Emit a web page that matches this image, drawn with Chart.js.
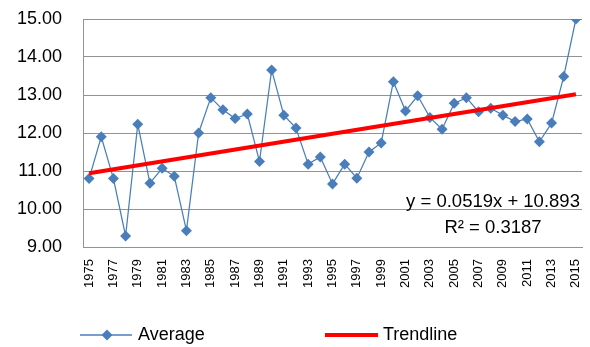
<!DOCTYPE html>
<html>
<head>
<meta charset="utf-8">
<script src="https://cdn.jsdelivr.net/npm/chart.js@4"></script>
<style>
  html, body { margin: 0; padding: 0; background: #fff; }
  #wrap { width: 590px; height: 347px; position: relative; }
</style>
</head>
<body>
<div id="wrap"><canvas id="chart"></canvas></div>
<script>
const years = ['1975', '1976', '1977', '1978', '1979', '1980', '1981', '1982', '1983', '1984',
  '1985', '1986', '1987', '1988', '1989', '1990', '1991', '1992', '1993', '1994',
  '1995', '1996', '1997', '1998', '1999', '2000', '2001', '2002', '2003', '2004',
  '2005', '2006', '2007', '2008', '2009', '2010', '2011', '2012', '2013', '2014', '2015'];
const average = [10.80, 11.90, 10.80, 9.29, 12.23, 10.68, 11.07, 10.86, 9.43, 12.00,
  12.93, 12.61, 12.38, 12.50, 11.25, 13.66, 12.47, 12.13, 11.18, 11.37,
  10.66, 11.18, 10.81, 11.50, 11.74, 13.35, 12.58, 12.98, 12.41, 12.10,
  12.78, 12.93, 12.56, 12.65, 12.47, 12.30, 12.37, 11.77, 12.26, 13.49, 15.00];
// trendline end points (first and last year)
const trendYears = ['1975', '2015'];
const trendValues = [10.94, 13.02];
const equationLines = ['y = 0.0519x + 10.893', 'R² = 0.3187'];
const legendNames = ['Average', 'Trendline'];

const blue = '#4a7ebb';
const red = '#ff0000';
const gridColor = '#939393';
const font = 'Liberation Sans';

// equation text drawn inside the plot area
const equationPlugin = {
  id: 'equation',
  afterDatasetsDraw(chart) {
    const ctx = chart.ctx;
    const area = chart.chartArea;
    const y = chart.scales.y;
    ctx.save();
    ctx.font = '18.5px "' + font + '"';
    ctx.fillStyle = '#000';
    ctx.textAlign = 'center';
    ctx.textBaseline = 'middle';
    const cx = area.right - 89;
    ctx.fillText(equationLines[0], cx, y.getPixelForValue(10.18));
    ctx.fillText(equationLines[1], cx, y.getPixelForValue(9.5));
    ctx.restore();
  }
};

// legend at the bottom, like the spreadsheet one
const legendPlugin = {
  id: 'bottomLegend',
  afterDraw(chart) {
    const ctx = chart.ctx;
    const ly = 335;
    ctx.save();
    // Average: thin blue line with a diamond
    ctx.strokeStyle = blue;
    ctx.lineWidth = 1.5;
    ctx.beginPath();
    ctx.moveTo(80, ly);
    ctx.lineTo(132, ly);
    ctx.stroke();
    ctx.fillStyle = blue;
    ctx.beginPath();
    ctx.moveTo(107, ly - 5.5);
    ctx.lineTo(112.5, ly);
    ctx.lineTo(107, ly + 5.5);
    ctx.lineTo(101.5, ly);
    ctx.closePath();
    ctx.fill();
    // Trendline: thick red line
    ctx.strokeStyle = red;
    ctx.lineWidth = 4;
    ctx.beginPath();
    ctx.moveTo(325, ly);
    ctx.lineTo(378, ly);
    ctx.stroke();
    ctx.font = '18px "' + font + '"';
    ctx.fillStyle = '#000';
    ctx.textAlign = 'left';
    ctx.textBaseline = 'middle';
    ctx.fillText(legendNames[0], 138, ly);
    ctx.fillText(legendNames[1], 383, ly);
    ctx.restore();
  }
};

new Chart(document.getElementById('chart'), {
  type: 'line',
  data: {
    labels: years,
    datasets: [{
      label: legendNames[0],
      data: average,
      borderColor: blue,
      backgroundColor: blue,
      borderWidth: 1.25,
      pointStyle: 'rectRot',
      pointRadius: 5.5,
      pointBorderWidth: 0,
      tension: 0,
      order: 2
    }, {
      label: legendNames[1],
      data: trendYears.map((yr, i) => ({ x: yr, y: trendValues[i] })),
      borderColor: red,
      borderWidth: 4,
      pointRadius: 0,
      order: 1
    }]
  },
  options: {
    responsive: true,
    maintainAspectRatio: false,
    animation: false,
    layout: { padding: { left: 17, right: 8, top: 19, bottom: 0 } },
    plugins: {
      legend: { display: false },
      tooltip: { enabled: false }
    },
    scales: {
      x: {
        offset: true,
        grid: { display: false, drawTicks: false },
        border: { display: true, color: gridColor, width: 1 },
        ticks: {
          autoSkip: false,
          minRotation: 90,
          maxRotation: 90,
          padding: 12,
          color: '#000',
          font: { family: font, size: 13 },
          callback: function (value, index) {
            return index % 2 === 0 ? years[index] : '';
          }
        },
        afterFit: function (scale) {
          scale.height = 100;
          scale.paddingLeft = 0;
          scale.paddingRight = 0;
        }
      },
      y: {
        min: 9,
        max: 15,
        grid: { color: gridColor, lineWidth: 1, drawTicks: false },
        border: { display: true, color: gridColor, width: 1 },
        ticks: {
          stepSize: 1,
          padding: 21,
          color: '#000',
          font: { family: font, size: 18 },
          callback: function (value) {
            return value.toFixed(2);
          }
        },
        afterFit: function (scale) {
          scale.width = 66;
          scale.paddingTop = 0;
          scale.paddingBottom = 0;
        }
      }
    }
  },
  plugins: [equationPlugin, legendPlugin]
});
</script>
</body>
</html>
